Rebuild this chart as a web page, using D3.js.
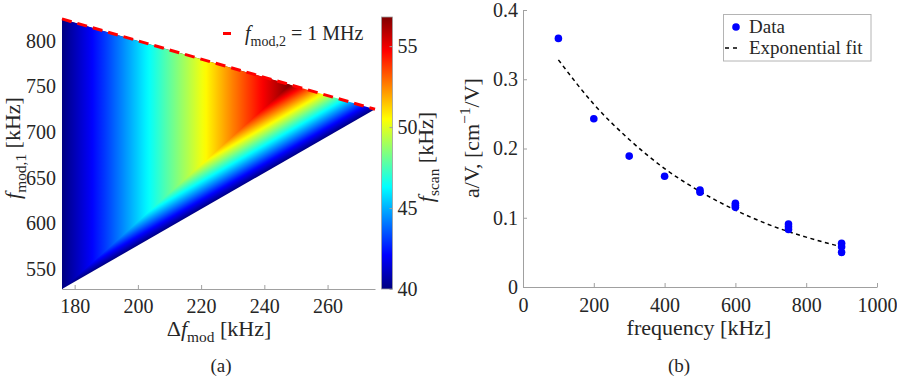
<!DOCTYPE html>
<html>
<head>
<style>
  body { margin: 0; background: #fff; }
</style>
<script src="https://d3js.org/d3.v7.min.js"></script>
</head>
<body>
<svg width="897" height="390"></svg>
<script>
// ---- panel (a) ----
let dfDomain = [176, 275];
let f1Domain = [528, 825];
let dfTicks = [180, 200, 220, 240, 260];
let f1Ticks = [550, 600, 650, 700, 750, 800];
// corners of the filled region (delta f, f_mod1): top-left, tip, bottom-left
let cornerDf = [176, 275, 176];
let cornerF1 = [824, 725, 528];
// f_scan read along the vertical bands (upper part)
let bandDf = [176, 190, 200, 210, 220, 230, 240, 248];
let bandScan = [40, 43.1, 45.5, 47.9, 50.2, 52.6, 54.9, 56.8];
// f_scan read versus height above the lower edge
let gapKHz = [0, 20, 40, 60, 80];
let gapScan = [40, 44.2, 48.4, 52.6, 56.8];
let cbDomain = [40, 56.8];
let cbTicks = [40, 45, 50, 55];

// ---- panel (b) ----
let freq   = [100, 200, 300, 400, 500, 500, 600, 600, 600, 750, 750, 750, 900, 900, 900];
let aOverV = [0.359, 0.243, 0.189, 0.160, 0.140, 0.137, 0.121, 0.118, 0.115, 0.091, 0.087, 0.083, 0.063, 0.058, 0.050];
let fitFreq = [100, 200, 300, 400, 500, 600, 700, 800, 900];
let fitVal  = [0.328, 0.264, 0.213, 0.171, 0.138, 0.111, 0.089, 0.072, 0.058];
let freqTicks = [0, 200, 400, 600, 800, 1000];
let aTicks = [0, 0.1, 0.2, 0.3, 0.4];

let serif = "'Liberation Serif'";
let axisGray = "#a0a0a0";
let ink = "#262626";
let svg = d3.select("svg");
let defs = svg.append("defs");

// jet colormap
let jetStops = [0, 1/8, 3/8, 5/8, 7/8, 1];
let jetCols = ["#000080", "#0000ff", "#00ffff", "#ffff00", "#ff0000", "#800000"];
let jet = d3.scaleLinear()
    .domain(jetStops.map(t => cbDomain[0] + t * (cbDomain[1] - cbDomain[0])))
    .range(jetCols)
    .clamp(true);

function txt(x, y, size) {
    return svg.append("text").attr("x", x).attr("y", y)
        .style("font-family", serif).style("font-size", size + "px").style("fill", ink);
}

function rich(sel, parts, size) {
    sel.style("font-family", serif).style("font-size", size + "px").style("fill", ink);
    let shift = 0;
    parts.forEach(p => {
        let ts = sel.append("tspan").text(p.t);
        let target = 0;
        if (p.i) ts.style("font-style", "italic");
        if (p.sub) { ts.style("font-size", (size * 0.7) + "px"); target = size * 0.28; }
        if (p.sup) { ts.style("font-size", (size * 0.7) + "px"); target = -size * 0.4; }
        if (target - shift !== 0) ts.attr("dy", target - shift);
        shift = target;
    });
}

function styleAxis(g) {
    g.attr("font-family", null).attr("font-size", null);
    g.selectAll("path, line").style("stroke", axisGray);
    g.selectAll("text").style("font-family", serif).style("font-size", "20px").style("fill", ink);
}

// ===== panel (a) =====
let xA = d3.scaleLinear().domain(dfDomain).range([62, 375]);
let yA = d3.scaleLinear().domain(f1Domain).range([289, 18]);

svg.append("g")
    .attr("transform", "translate(0,289)")
    .call(d3.axisBottom(xA).tickValues(dfTicks).tickSizeInner(-4).tickSizeOuter(0).tickPadding(10))
    .call(styleAxis);
svg.append("g")
    .attr("transform", "translate(62,0)")
    .call(d3.axisLeft(yA).tickValues(f1Ticks).tickSizeInner(-4).tickSizeOuter(0).tickPadding(6))
    .call(styleAxis);

let topEdge = d3.scaleLinear().domain([cornerDf[0], cornerDf[1]]).range([cornerF1[0], cornerF1[1]]);
let lowerEdge = d3.scaleLinear().domain([cornerDf[2], cornerDf[1]]).range([cornerF1[2], cornerF1[1]]);
let bandScale = d3.scaleLinear().domain(bandDf).range(bandScan).clamp(true);
let gapScale = d3.scaleLinear().domain(gapKHz).range(gapScan).clamp(true);
let gapInv = d3.scaleLinear().domain(gapScan).range(gapKHz).clamp(true);

// where the two regimes meet on the upper edge
let lo = cornerDf[0], hi = cornerDf[1];
for (let k = 0; k < 40; k++) {
    let m = (lo + hi) / 2;
    if (bandScale(m) < gapScale(topEdge(m) - lowerEdge(m))) lo = m; else hi = m;
}
let dPeak = lo;
// boundary line between the regimes
let seam = d3.range(0, 31).map(i => {
    let d = cornerDf[2] + (dPeak - cornerDf[2]) * i / 30;
    return [d, lowerEdge(d) + gapInv(bandScale(d))];
});
let px = p => [xA(p[0]), yA(p[1])];
let T = px([cornerDf[0], cornerF1[0]]), R = px([cornerDf[1], cornerF1[1]]), L = px([cornerDf[2], cornerF1[2]]);
let P = px([dPeak, topEdge(dPeak)]);
let seamPx = seam.map(px);

// vertical-band gradient
let gBand = defs.append("linearGradient").attr("id", "bandGrad")
    .attr("gradientUnits", "userSpaceOnUse")
    .attr("x1", xA(bandDf[0])).attr("x2", xA(bandDf[bandDf.length - 1])).attr("y1", 0).attr("y2", 0);
d3.range(0, 61).forEach(i => {
    let d = bandDf[0] + (bandDf[bandDf.length - 1] - bandDf[0]) * i / 60;
    gBand.append("stop").attr("offset", i / 60).attr("stop-color", jet(bandScale(d)));
});

// gradient perpendicular to the lower edge
let ex = R[0] - L[0], ey = R[1] - L[1], elen = Math.hypot(ex, ey);
let nx = ey / elen, ny = -ex / elen;          // normal into the triangle
if (ny > 0) { nx = -nx; ny = -ny; }
let gMax = gapKHz[gapKHz.length - 1];
let perp = (yA(lowerEdge(cornerDf[2])) - yA(lowerEdge(cornerDf[2]) + gMax)) * Math.abs(ex) / elen;
let gGap = defs.append("linearGradient").attr("id", "gapGrad")
    .attr("gradientUnits", "userSpaceOnUse")
    .attr("x1", L[0]).attr("y1", L[1])
    .attr("x2", L[0] + nx * perp).attr("y2", L[1] + ny * perp);
d3.range(0, 61).forEach(i => {
    let g = gMax * i / 60;
    gGap.append("stop").attr("offset", i / 60).attr("stop-color", jet(gapScale(g)));
});

let poly = pts => pts.map(p => p.join(",")).join(" ");
// whole triangle in the lower-edge regime, upper-left regime laid over it
svg.append("polygon")
    .attr("points", poly([T, R, L]))
    .attr("fill", "url(#gapGrad)");
svg.append("polygon")
    .attr("points", poly([T, P].concat(seamPx.slice().reverse())))
    .attr("fill", "url(#bandGrad)");

// f_mod,2 = 1 MHz edge
svg.append("line")
    .attr("x1", T[0]).attr("y1", T[1]).attr("x2", R[0]).attr("y2", R[1])
    .attr("stroke", "#ff0000").attr("stroke-width", 3)
    .attr("stroke-dasharray", "10,6");

svg.append("line").attr("x1", 223).attr("x2", 231).attr("y1", 33.5).attr("y2", 33.5)
    .attr("stroke", "#ff0000").attr("stroke-width", 3);
rich(txt(245, 40, 20), [{t: "f", i: true}, {t: "mod,2", sub: true}, {t: " = 1 MHz"}], 20);

// colorbar
let cb = d3.scaleLinear().domain(cbDomain).range([289, 17]);
let grad = defs.append("linearGradient").attr("id", "jetGrad")
    .attr("x1", 0).attr("y1", 1).attr("x2", 0).attr("y2", 0);
jetStops.forEach((t, i) => grad.append("stop").attr("offset", t).attr("stop-color", jetCols[i]));
svg.append("rect").attr("x", 381.5).attr("y", 17).attr("width", 11).attr("height", 272)
    .attr("fill", "url(#jetGrad)").attr("stroke", axisGray).attr("stroke-width", 0.8);
svg.append("g")
    .attr("transform", "translate(392.5,0)")
    .call(d3.axisRight(cb).tickValues(cbTicks).tickSizeInner(-3).tickSizeOuter(0).tickPadding(5))
    .call(g => g.select(".domain").remove())
    .call(styleAxis);

rich(txt(0, 0, 22).attr("transform", "translate(433,157) rotate(-90)").attr("text-anchor", "middle"),
    [{t: "f", i: true}, {t: "scan", sub: true}, {t: " [kHz]"}], 22);

rich(txt(0, 0, 22).attr("transform", "translate(20,148) rotate(-90)").attr("text-anchor", "middle"),
    [{t: "f", i: true}, {t: "mod,1", sub: true}, {t: " [kHz]"}], 22);

rich(txt(219, 336, 22).attr("text-anchor", "middle"),
    [{t: "Δ"}, {t: "f", i: true}, {t: "mod", sub: true}, {t: " [kHz]"}], 22);

txt(221, 372, 19).attr("text-anchor", "middle").text("(a)");

// ===== panel (b) =====
let xB = d3.scaleLinear().domain([0, 1000]).range([523, 877]);
let yB = d3.scaleLinear().domain([0, 0.4]).range([287, 10]);

svg.append("g")
    .attr("transform", "translate(0,287)")
    .call(d3.axisBottom(xB).tickValues(freqTicks).tickFormat(d3.format("d"))
        .tickSizeInner(-4).tickSizeOuter(0).tickPadding(11))
    .call(styleAxis);
svg.append("g")
    .attr("transform", "translate(523,0)")
    .call(d3.axisLeft(yB).tickValues(aTicks).tickFormat(d => d === 0 ? "0" : d3.format(".1f")(d))
        .tickSizeInner(-4).tickSizeOuter(0).tickPadding(5))
    .call(styleAxis);

let fitLine = d3.line().x((d, i) => xB(fitFreq[i])).y(d => yB(d)).curve(d3.curveMonotoneX);
svg.append("path").datum(fitVal)
    .attr("d", fitLine)
    .attr("fill", "none").attr("stroke", "#000").attr("stroke-width", 1.5)
    .attr("stroke-dasharray", "4,3.5");

svg.append("g").selectAll("circle").data(aOverV).join("circle")
    .attr("cx", (d, i) => xB(freq[i])).attr("cy", d => yB(d))
    .attr("r", 3.8).attr("fill", "#0000ff");

// legend
svg.append("rect").attr("x", 723.5).attr("y", 14.5).attr("width", 147.5).attr("height", 46.5)
    .attr("fill", "#fff").attr("stroke", "#b4b4b4").attr("stroke-width", 1);
svg.append("circle").attr("cx", 736).attr("cy", 27).attr("r", 3.8).attr("fill", "#0000ff");
txt(749, 33, 19).text("Data");
svg.append("line").attr("x1", 725).attr("x2", 741).attr("y1", 48).attr("y2", 48)
    .attr("stroke", "#000").attr("stroke-width", 1.5).attr("stroke-dasharray", "4,4");
txt(749, 54, 19).text("Exponential fit");

txt(699, 335, 22).attr("text-anchor", "middle").text("frequency [kHz]");

rich(txt(0, 0, 22).attr("transform", "translate(479,138) rotate(-90)").attr("text-anchor", "middle"),
    [{t: "a/V, [cm"}, {t: "−1", sup: true}, {t: "/V]"}], 22);

txt(679, 372, 19).attr("text-anchor", "middle").text("(b)");
</script>
</body>
</html>
